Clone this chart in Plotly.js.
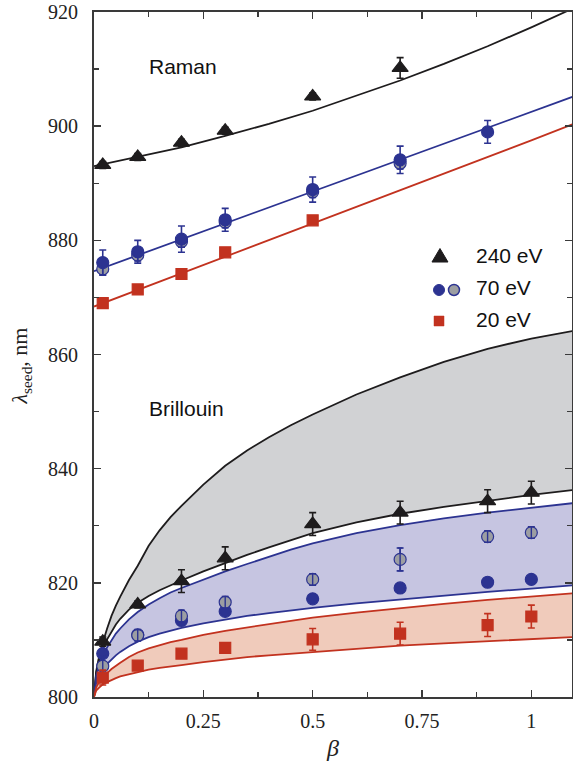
<!DOCTYPE html>
<html>
<head>
<meta charset="utf-8">
<script src="https://cdn.plot.ly/plotly-3.0.1.min.js"></script>
<style>html,body{margin:0;padding:0;background:#fff;}#chart{width:573px;height:762px;}</style>
</head>
<body>
<div id="chart"></div>
<script>
// ---- fitted curves ----
const betaFit = [0, 0.0025, 0.005, 0.01, 0.015, 0.02, 0.03, 0.04, 0.05, 0.06, 0.08, 0.1, 0.125, 0.15, 0.175, 0.2, 0.25, 0.3, 0.35, 0.4, 0.45, 0.5, 0.6, 0.7, 0.8, 0.9, 1.0, 1.1];
const brilGrayUpper  = [800, 802.8, 804.5, 806.5, 808.1, 809.5, 812.0, 814.2, 816.0, 817.6, 820.5, 823.0, 826.5, 829.2, 831.5, 833.5, 837.2, 840.5, 843.2, 845.5, 847.6, 849.5, 853.0, 856.0, 858.7, 861.0, 862.8, 864.2];
const brilBlackLower = [800, 803.0, 804.2, 805.8, 807.1, 808.3, 810.1, 811.5, 812.7, 813.7, 815.3, 816.5, 817.7, 818.7, 819.6, 820.4, 822.0, 823.5, 824.9, 826.2, 827.5, 828.7, 830.6, 832.1, 833.3, 834.4, 835.4, 836.3];
const brilBlueUpper  = [800, 802.7, 803.7, 805.1, 806.2, 807.2, 808.7, 810.0, 811.1, 812.0, 813.6, 814.9, 816.2, 817.3, 818.3, 819.1, 820.6, 822.0, 823.3, 824.6, 825.8, 826.9, 828.7, 830.1, 831.3, 832.3, 833.2, 834.0];
const brilBlueLower  = [800, 801.8, 802.5, 803.5, 804.2, 804.8, 805.8, 806.6, 807.3, 807.9, 808.9, 809.7, 810.5, 811.1, 811.6, 812.1, 812.9, 813.6, 814.2, 814.7, 815.2, 815.6, 816.4, 817.1, 817.8, 818.4, 819.0, 819.6];
const brilRedUpper   = [800, 801.2, 801.7, 802.4, 802.9, 803.4, 804.2, 804.9, 805.5, 806.0, 807.0, 807.8, 808.5, 809.1, 809.6, 810.0, 810.9, 811.6, 812.2, 812.8, 813.4, 813.9, 814.8, 815.6, 816.3, 817.0, 817.6, 818.2];
const brilRedLower   = [800, 800.8, 801.1, 801.5, 801.9, 802.2, 802.6, 803.0, 803.3, 803.6, 804.0, 804.4, 804.8, 805.1, 805.4, 805.6, 806.1, 806.6, 807.0, 807.3, 807.6, 807.9, 808.5, 809.0, 809.4, 809.8, 810.2, 810.5];

const betaRaman = [0, 0.1, 0.2, 0.3, 0.4, 0.5, 0.6, 0.7, 0.8, 0.9, 1.0, 1.1];
const ramanBlackFit = [893, 894.6, 896.3, 898.3, 900.4, 902.7, 905.3, 908.0, 910.9, 914.0, 917.3, 920.8];
const ramanBlueFit  = [874.6, 877.4, 880.2, 883.0, 885.8, 888.6, 891.3, 894.1, 896.9, 899.7, 902.5, 905.3];
const ramanRedFit   = [868.4, 871.3, 874.2, 877.1, 880.0, 883.0, 885.9, 888.8, 891.7, 894.6, 897.5, 900.5];

// ---- measured points ----
const ramanBeta240 = [0.02, 0.1, 0.2, 0.3, 0.5, 0.7];
const raman240     = [893.2, 894.6, 897.1, 899.2, 905.2, 910.2];
const raman240Err  = [0.6, 0.6, 0.6, 0.6, 0.6, 1.8];

const ramanBeta70  = [0.02, 0.1, 0.2, 0.3, 0.5, 0.7, 0.9];
const raman70a     = [876.1, 878.0, 880.2, 883.6, 888.9, 894.1, 899.0];
const raman70aErr  = [2.2, 2.0, 2.3, 2.0, 2.2, 2.4, 2.0];
const ramanBeta70b = [0.02, 0.1, 0.2, 0.3, 0.5, 0.7];
const raman70b     = [875.0, 877.4, 879.8, 883.2, 888.5, 893.5];
const raman70bErr  = [1.0, 1.0, 1.0, 1.0, 1.0, 1.0];

const ramanBeta20  = [0.02, 0.1, 0.2, 0.3, 0.5];
const raman20      = [869.0, 871.4, 874.1, 877.9, 883.5];
const raman20Err   = [0.6, 0.6, 0.6, 0.6, 0.6];

const brilBeta = [0.02, 0.1, 0.2, 0.3, 0.5, 0.7, 0.9, 1.0];
const bril240    = [809.7, 816.2, 820.3, 824.3, 830.3, 832.3, 834.3, 835.8];
const bril240Err = [0.8, 0.6, 2.0, 2.0, 2.0, 2.0, 2.0, 2.0];
const bril70a    = [807.6, 810.9, 813.4, 815.0, 817.2, 819.1, 820.1, 820.6];
const bril70aErr = [1.7, 0.6, 0.6, 0.6, 0.6, 0.6, 0.6, 0.6];
const bril70b    = [805.4, 810.8, 814.2, 816.6, 820.6, 824.1, 828.1, 828.8];
const bril70bErr = [2.0, 1.0, 1.0, 1.0, 1.0, 2.0, 1.0, 1.0];
const bril20     = [803.4, 805.5, 807.6, 808.6, 810.1, 811.1, 812.6, 814.1];
const bril20Err  = [1.3, 0.6, 0.6, 0.6, 1.9, 2.0, 2.0, 2.0];

// ---- legend / labels ----
const legendLabels = ['240 eV', '70 eV', '20 eV'];
const xTitle = '<i>β</i>';
const yTitle = '<i>λ</i><sub>seed</sub>, nm&nbsp;&nbsp;&nbsp;&nbsp;';

// ---- styles ----
const cBlack = '#1e1c1d', cBlue = '#2c3391', cGray = '#9c9ea2', cRed = '#c2321f';
const fillGray = '#d1d2d4', fillBlue = '#c6c5e1', fillRed = '#f0cbbb';

function fillPair(lower, upper, color) {
  return [
    {x: betaFit, y: lower, mode: 'lines', line: {width: 0}, hoverinfo: 'skip', showlegend: false},
    {x: betaFit, y: upper, mode: 'lines', line: {width: 0}, fill: 'tonexty', fillcolor: color, hoverinfo: 'skip', showlegend: false}
  ];
}
function curve(x, y, color) {
  return {x: x, y: y, mode: 'lines', line: {color: color, width: 1.8}, showlegend: false, hoverinfo: 'skip'};
}
function pts(x, y, err, sym, size, fill, lineCol, errCol, capW) {
  return {x: x, y: y, mode: 'markers', showlegend: false,
    marker: {symbol: sym, size: size, color: fill, line: {color: lineCol, width: 1.2}},
    error_y: {type: 'data', array: err, visible: true, color: errCol, thickness: 1.6, width: capW}};
}
function errOverlay(x, y, err, col) {
  return {x: x, y: y, mode: 'markers', showlegend: false, hoverinfo: 'skip',
    marker: {size: 1, opacity: 0},
    error_y: {type: 'data', array: err, visible: true, color: col, thickness: 1.4, width: 2.5}};
}

const traces = [].concat(
  fillPair(brilBlackLower, brilGrayUpper, fillGray),
  fillPair(brilBlueLower, brilBlueUpper, fillBlue),
  fillPair(brilRedLower, brilRedUpper, fillRed),
  [
    curve(betaFit, brilGrayUpper, cBlack),
    curve(betaFit, brilBlackLower, cBlack),
    curve(betaFit, brilBlueUpper, cBlue),
    curve(betaFit, brilBlueLower, cBlue),
    curve(betaFit, brilRedUpper, cRed),
    curve(betaFit, brilRedLower, cRed),
    curve(betaRaman, ramanBlackFit, cBlack),
    curve(betaRaman, ramanBlueFit, cBlue),
    curve(betaRaman, ramanRedFit, cRed),
    // Raman points
    pts(ramanBeta70b, raman70b, raman70bErr, 'circle', 12, cGray, cBlue, cBlue, 3.5),
    errOverlay(ramanBeta70b, raman70b, raman70bErr, cBlue),
    pts(ramanBeta70, raman70a, raman70aErr, 'circle', 12, cBlue, cBlue, cBlue, 3.5),
    pts(ramanBeta20, raman20, raman20Err, 'square', 11, cRed, cRed, cRed, 3.5),
    pts(ramanBeta240, raman240, raman240Err, 'triangle-up', 14, cBlack, cBlack, cBlack, 3.5),
    // Brillouin points
    pts(brilBeta, bril70a, bril70aErr, 'circle', 12, cBlue, cBlue, cBlue, 3.5),
    pts(brilBeta, bril70b, bril70bErr, 'circle', 12, cGray, cBlue, cBlue, 3.5),
    errOverlay(brilBeta, bril70b, bril70bErr, cBlue),
    pts(brilBeta, bril20, bril20Err, 'square', 11, cRed, cRed, cRed, 3.5),
    pts(brilBeta, bril240, bril240Err, 'triangle-up', 14, cBlack, cBlack, cBlack, 3.5)
  ]
);

const serif = 'Liberation Serif, Times New Roman, serif';
const axisCommon = {
  showline: true, linewidth: 2, linecolor: '#3a3a3a', mirror: 'ticks',
  ticks: 'inside', tickcolor: '#3a3a3a', tickwidth: 1.6, ticklen: 7,
  showgrid: false, zeroline: false,
  tickfont: {family: serif, size: 20, color: '#222'}
};

const sansFont = {family: 'Liberation Sans, Arial, sans-serif', size: 21, color: '#111'};
const legendY = [0.6441, 0.5978, 0.5515];

// legend key symbols (pixel-sized shapes anchored in paper coordinates)
function keyShape(type, ax, ay, half, fill, lineCol, lw) {
  return {type: type, xref: 'paper', yref: 'paper', xsizemode: 'pixel', ysizemode: 'pixel',
    xanchor: ax, yanchor: ay, x0: -half, x1: half, y0: -half, y1: half,
    fillcolor: fill, line: {color: lineCol, width: lw}, layer: 'above'};
}
const shapes = [
  {type: 'path', xref: 'paper', yref: 'paper', xsizemode: 'pixel', ysizemode: 'pixel',
    xanchor: 0.7238, yanchor: 0.6423, path: 'M -8 -5 L 8 -5 L 0 8.5 Z',
    fillcolor: cBlack, line: {color: cBlack, width: 1}, layer: 'above'},
  keyShape('circle', 0.7218, 0.5942, 5.5, cBlue, cBlue, 1),
  keyShape('circle', 0.7531, 0.5942, 5.5, cGray, cBlue, 1.5),
  keyShape('rect', 0.7218, 0.5489, 5, cRed, cRed, 0.5)
];

const layout = {
  width: 573, height: 762,
  margin: {l: 94, r: 1, t: 12, b: 65, pad: 0},
  paper_bgcolor: '#fff', plot_bgcolor: '#fff',
  showlegend: false,
  xaxis: Object.assign({}, axisCommon, {
    range: [0, 1.093], tickmode: 'array', tickvals: [0, 0.25, 0.5, 0.75, 1], ticktext: ['0', '0.25', '0.5', '0.75', '1'],
    minor: {tickmode: 'array', tickvals: [0.125, 0.375, 0.625, 0.875], ticklen: 5, tickcolor: '#3a3a3a', tickwidth: 1.4, ticks: 'inside'},
    ticklabelstandoff: 5,
    title: {text: xTitle, font: {family: serif, size: 24, color: '#222'}, standoff: 8}
  }),
  yaxis: Object.assign({}, axisCommon, {
    range: [800, 920], tickmode: 'array', tickvals: [800, 820, 840, 860, 880, 900, 920],
    minor: {tickmode: 'array', tickvals: [810, 830, 850, 870, 890, 910], ticklen: 5, tickcolor: '#3a3a3a', tickwidth: 1.4, ticks: 'inside'},
    ticklabelstandoff: 10,
    title: {text: yTitle, font: {family: serif, size: 22, color: '#222'}, standoff: 14}
  }),
  shapes: shapes,
  annotations: [
    {text: 'Raman', x: 0.2035, y: 910.4, xref: 'x', yref: 'y', showarrow: false, font: sansFont, xanchor: 'center', yanchor: 'middle'},
    {text: 'Brillouin', x: 0.2104, y: 850.5, xref: 'x', yref: 'y', showarrow: false, font: sansFont, xanchor: 'center', yanchor: 'middle'},
    {text: legendLabels[0], x: 0.795, y: legendY[0], xref: 'paper', yref: 'paper', showarrow: false, font: sansFont, xanchor: 'left', yanchor: 'middle'},
    {text: legendLabels[1], x: 0.795, y: legendY[1], xref: 'paper', yref: 'paper', showarrow: false, font: sansFont, xanchor: 'left', yanchor: 'middle'},
    {text: legendLabels[2], x: 0.795, y: legendY[2], xref: 'paper', yref: 'paper', showarrow: false, font: sansFont, xanchor: 'left', yanchor: 'middle'}
  ]
};

Plotly.newPlot('chart', traces, layout, {displayModeBar: false, staticPlot: true});
</script>
</body>
</html>
